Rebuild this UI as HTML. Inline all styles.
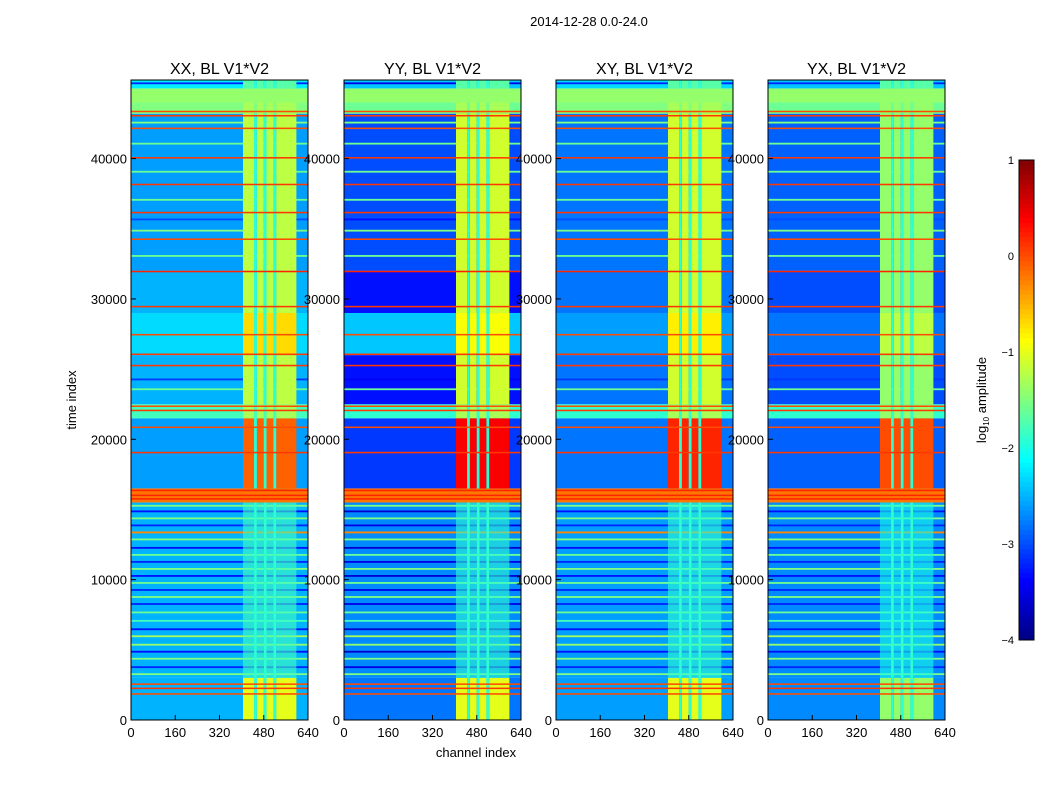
<!DOCTYPE html>
<html><head><meta charset="utf-8"><style>
body{margin:0;background:#fff;}
svg text{font-family:"Liberation Sans",sans-serif;fill:#000;}
</style></head><body>
<svg id="fig" width="1050" height="800" xmlns="http://www.w3.org/2000/svg">
<rect width="1050" height="800" fill="#fff"/>
<text x="589" y="26" font-size="13" text-anchor="middle">2014-12-28 0.0-24.0</text>
<text transform="translate(76,400) rotate(-90)" font-size="13" text-anchor="middle">time index</text>
<text x="476" y="757" font-size="13" text-anchor="middle">channel index</text>
<g id="panels"></g>
<g id="cbar"></g>
</svg>
<script>
const panelTitles = ["XX, BL V1*V2","YY, BL V1*V2","XY, BL V1*V2","YX, BL V1*V2"];
const xTicks = [0,160,320,480,640];
const yTicks = [0,10000,20000,30000,40000];
const cbTicks = [1,0,-1,-2,-3,-4];
// time segments: [start,end]
const segStarts = [0,3000,15500,16500,21500,22500,26000,29000,32000,43200,44000,45000];
const segEnds   = [3000,15500,16500,21500,22500,26000,29000,32000,43200,44000,45000,45600];
// background log amplitude per panel per segment
const bgXX = [-2.5,-2.5,-0.2,-2.6,-1.8,-2.5,-2.3,-2.5,-2.6,-1.5,-1.4,-2.2];
const bgYY = [-2.8,-2.7,-0.2,-3.1,-1.9,-3.3,-2.4,-3.3,-3.0,-1.6,-1.4,-2.4];
const bgXY = [-2.6,-2.6,-0.2,-2.8,-1.9,-2.8,-2.6,-2.8,-2.8,-1.5,-1.4,-2.3];
const bgYX = [-2.7,-2.7,-0.2,-2.9,-1.9,-3.0,-2.8,-3.0,-2.9,-1.6,-1.4,-2.4];
// RFI channel region amplitude per panel per segment
const rfiXX = [-1.0,-1.8,-0.2,-0.1,-1.3,-1.2,-0.7,-1.2,-1.2,-1.3,-1.4,-1.7];
const rfiYY = [-1.0,-1.9,-0.2,0.4,-1.3,-1.1,-0.9,-1.1,-1.1,-1.3,-1.4,-1.7];
const rfiXY = [-1.0,-1.9,-0.2,0.2,-1.3,-1.1,-0.8,-1.1,-1.1,-1.3,-1.4,-1.7];
const rfiYX = [-1.4,-2.0,-0.2,0.0,-1.4,-1.4,-1.2,-1.4,-1.4,-1.4,-1.4,-1.7];
const bgLevels = [bgXX,bgYY,bgXY,bgYX];
const rfiLevels = [rfiXX,rfiYY,rfiXY,rfiYX];
// RFI channel ranges
const rfiStart = [405,455,490,525];
const rfiEnd   = [445,480,515,598];
// horizontal stripes (time index, level)
const stripeT = [3200,3700,4300,4800,5300,5900,6400,7000,7600,8200,8700,9200,9700,10200,10700,11200,11700,12200,12800,13300,13800,14300,14800,15200,23500,24200,33000,34800,35600,37000,39000,41000,42500,45300];
const stripeV = [-1.5,-3.2,-1.5,-3.3,-1.4,-1.3,-3.3,-1.8,-1.6,-3.2,-1.5,-3.2,-1.6,-3.3,-1.5,-3.2,-1.6,-3.3,-1.5,-0.3,-3.2,-1.5,-3.3,-1.5,-1.6,-3.1,-1.6,-1.5,-3.0,-1.6,-1.6,-1.6,-1.5,-3.2];
// orange RFI lines across all channels
const lineT = [1800,2200,2500,15700,15950,16300,19000,20800,22000,22300,25200,26000,27400,29400,31900,34200,36100,38100,40000,42100,43000,43300];
const lineV = [0.0,0.1,0.0,0.2,0.2,0.2,0.1,0.0,0.1,0.0,0.1,0.1,0.0,0.1,0.2,0.0,0.1,0.1,0.1,0.0,0.1,0.0];

const NS="http://www.w3.org/2000/svg";
const pLeft=[131,344,556,768], pW=177, pTop=80, pH=640, tMax=45600, cMax=640;
function xs(p,c){return pLeft[p]+c/cMax*pW;}
function ys(t){return pTop+pH-t/tMax*pH;}
function jet(v){let t=(v+4)/5; t=Math.max(0,Math.min(1,t));
 const f=x=>Math.max(0,Math.min(1,1.5-Math.abs(4*t-x)));
 return `rgb(${Math.round(255*f(3))},${Math.round(255*f(2))},${Math.round(255*f(1))})`;}
function mk(tag,attrs,parent){const e=document.createElementNS(NS,tag);for(const k in attrs)e.setAttribute(k,attrs[k]);parent.appendChild(e);return e;}
const G=document.getElementById('panels');
for(let p=0;p<4;p++){
 const g=mk('g',{},G);
 
 
 for(let s=0;s<segStarts.length;s++){
  const y1=ys(segEnds[s]),y0=ys(segStarts[s]);
  const r=mk('rect',{x:xs(p,0),y:y1,width:pW,height:y0-y1,fill:jet(bgLevels[p][s])},g);
  
  
 }
 for(let i=0;i<stripeT.length;i++){
  const r=mk('rect',{x:xs(p,0),y:ys(stripeT[i]+130),width:pW,height:ys(stripeT[i])-ys(stripeT[i]+130),fill:jet(stripeV[i]-(p==1&&stripeV[i]<-2?0.3:0))},g);
  
  
 }
 for(let s=0;s<segStarts.length;s++){
  for(let c=0;c<rfiStart.length;c++){
   const y1=ys(segEnds[s]),y0=ys(segStarts[s]);
   const r=mk('rect',{x:xs(p,rfiStart[c]),y:y1,width:xs(p,rfiEnd[c])-xs(p,rfiStart[c]),height:y0-y1,fill:jet(rfiLevels[p][s]),opacity:(s==1?0.6:1)},g);
   
   
  }
  for(let c=0;c<rfiStart.length-1;c++){
   const y1=ys(segEnds[s]),y0=ys(segStarts[s]);
   const r=mk('rect',{x:xs(p,rfiEnd[c]),y:y1,width:xs(p,rfiStart[c+1])-xs(p,rfiEnd[c]),height:y0-y1,fill:jet(Math.max(bgLevels[p][s],-1.9))},g);
   
   
  }
 }
 for(let i=0;i<lineT.length;i++){
  const r=mk('rect',{x:xs(p,0),y:ys(lineT[i]+110),width:pW,height:ys(lineT[i])-ys(lineT[i]+110),fill:jet(lineV[i])},g);
  
  
 }
 const fr=mk('rect',{x:pLeft[p],y:pTop,width:pW,height:pH,fill:'none',stroke:'#000','stroke-width':1},g);
 
 
 const tt=mk('text',{x:pLeft[p]+pW/2,y:74,'font-size':16,'text-anchor':'middle'},g);
 tt.textContent=panelTitles[p];
 
 
 for(const v of xTicks){
  const x=xs(p,v);
  mk('line',{x1:x,x2:x,y1:pTop+pH,y2:pTop+pH-5,stroke:'#000'},g);
  const t=mk('text',{x:x,y:737,'font-size':13,'text-anchor':'middle'},g);
  t.textContent=v;
  
  
 }
 for(const v of yTicks){
  const y=ys(v);
  mk('line',{x1:pLeft[p],x2:pLeft[p]+5,y1:y,y2:y,stroke:'#000'},g);
  const t=mk('text',{x:pLeft[p]-4,y:y+5,'font-size':13,'text-anchor':'end'},g);
  t.textContent=v;
  
  
 }
}
const C=document.getElementById('cbar');
const cbTop=160,cbBot=640,cbX=1019,cbW=15;
function cy(v){return cbBot-(v+4)/5*(cbBot-cbTop);}
for(let i=0;i<100;i++){
 const v=-4+i*0.05;
 const r=mk('rect',{x:cbX,y:cy(v+0.05),width:cbW,height:cy(v)-cy(v+0.05)+0.5,fill:jet(v+0.025)},C);
 
 
}
const cf=mk('rect',{x:cbX,y:cbTop,width:cbW,height:cbBot-cbTop,fill:'none',stroke:'#000'},C);


for(const v of cbTicks){
 const t=mk('text',{x:1014,y:cy(v)+4,'font-size':11,'text-anchor':'end'},C);
 t.textContent=v<0?'\u2212'+(-v):v;
 
 
}
const cl=mk('text',{transform:'translate(986,400) rotate(-90)','font-size':13,'text-anchor':'middle'},C);
cl.innerHTML='log<tspan font-size="8" dy="3">10</tspan><tspan dy="-3"> amplitude</tspan>';


</script>
</body></html>
